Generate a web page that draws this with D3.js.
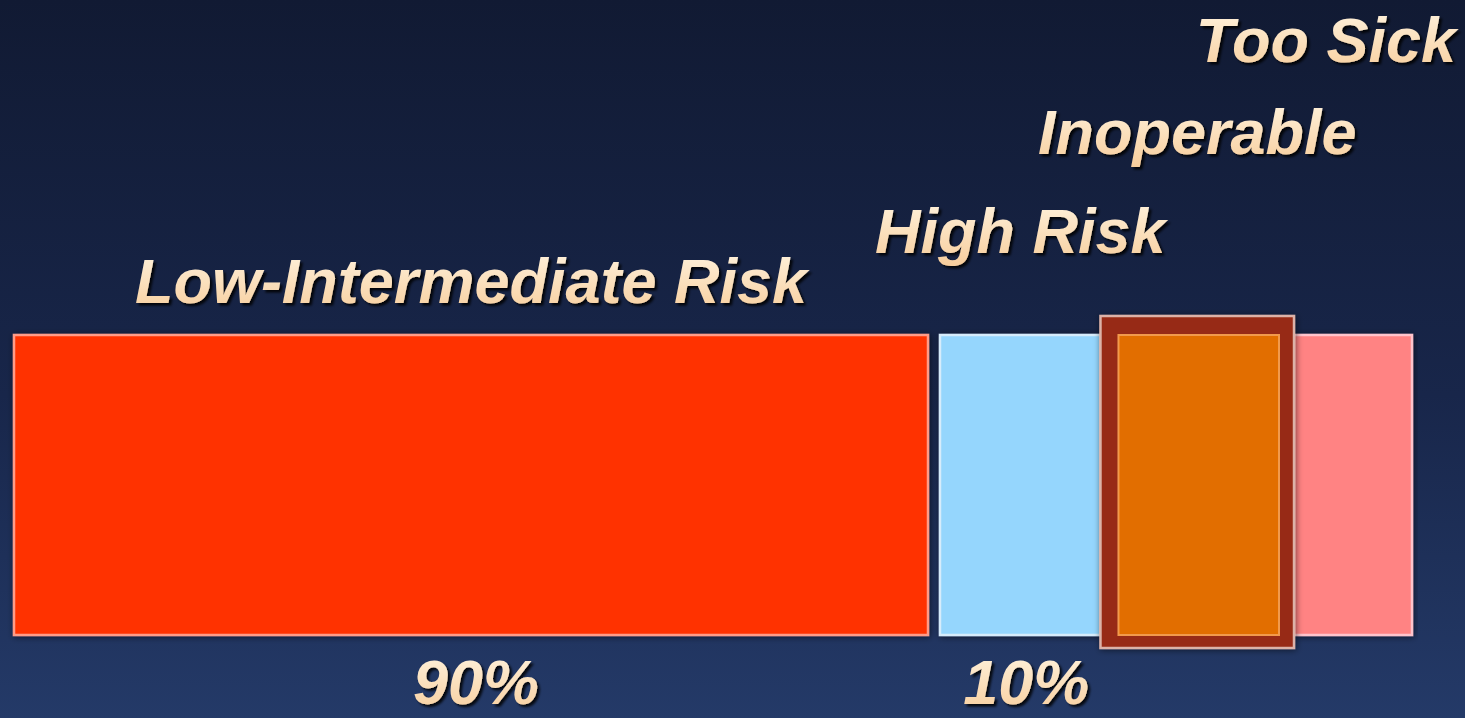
<!DOCTYPE html>
<html>
<head>
<meta charset="utf-8">
<script src="https://cdn.jsdelivr.net/npm/d3@7/dist/d3.min.js"></script>
<style>
  html, body { margin: 0; padding: 0; background: #141d38; overflow: hidden; }
  svg { display: block; }
</style>
</head>
<body>
<svg id="chart" width="1465" height="718"></svg>
<script>
// Share of patients by surgical risk group (percent)
const categories = ["Low-Intermediate Risk", "High Risk", "Inoperable", "Too Sick"];
const shares = [90, 3.4, 4.1, 2.5];
// The two headline groups: low/intermediate vs. the remaining high-risk end
const groupLabels = ["90%", "10%"];
const groupTotals = [90, 10];
// Which category is highlighted with a frame
const highlighted = "Inoperable";

const W = 1465, H = 718;
const svg = d3.select("#chart");
const defs = svg.append("defs");

// Background: dark navy, lighter towards the bottom
const bg = defs.append("linearGradient").attr("id", "bg")
  .attr("x1", 0).attr("y1", 0).attr("x2", 0).attr("y2", 1);
bg.append("stop").attr("offset", "0%").attr("stop-color", "#111a33");
bg.append("stop").attr("offset", "55%").attr("stop-color", "#18264a");
bg.append("stop").attr("offset", "100%").attr("stop-color", "#243a68");
svg.append("rect").attr("width", W).attr("height", H).attr("fill", "url(#bg)");

// Text fill: cream to peach
const tg = defs.append("linearGradient").attr("id", "txt")
  .attr("x1", 0).attr("y1", 0).attr("x2", 0).attr("y2", 1);
tg.append("stop").attr("offset", "0%").attr("stop-color", "#fff4e0");
tg.append("stop").attr("offset", "100%").attr("stop-color", "#f7cd9c");

const tshadow = defs.append("filter").attr("id", "tshadow")
  .attr("x", "-10%").attr("y", "-20%").attr("width", "120%").attr("height", "140%");
tshadow.append("feDropShadow").attr("dx", 2.5).attr("dy", 2.5)
  .attr("stdDeviation", 1.2).attr("flood-color", "#000").attr("flood-opacity", 0.85);

const bshadow = defs.append("filter").attr("id", "bshadow")
  .attr("x", "-5%").attr("y", "-5%").attr("width", "110%").attr("height", "110%");
bshadow.append("feDropShadow").attr("dx", 1).attr("dy", 1)
  .attr("stdDeviation", 3).attr("flood-color", "#000").attr("flood-opacity", 0.55);

// Horizontal scales: the 90% group at true proportion, the 10% group expanded
const xLow = d3.scaleLinear().domain([0, groupTotals[0]]).range([14, 928]);
const xHigh = d3.scaleLinear().domain([0, groupTotals[1]]).range([940, 1412]);
const y = d3.scaleBand().domain(["bar"]).range([335, 635]).padding(0);

const fill = d3.scaleOrdinal().domain(categories)
  .range(["#ff3300", "#95d6fd", "#e26e00", "#ff8383"]);
const edge = d3.scaleOrdinal().domain(categories)
  .range(["#ff9c88", "#d6ecfb", "#f29a4c", "#ffc4cc"]);

// Segment extents
let acc = 0;
const segs = categories.map((c, i) => {
  if (i === 0) return { cat: c, x0: xLow(0), x1: xLow(shares[0]) };
  const s = { cat: c, x0: xHigh(acc), x1: xHigh(acc + shares[i]) };
  acc += shares[i];
  return s;
});

const bars = svg.append("g");
const framePadTop = 19, framePadBottom = 13, frameInset = 18;

// Plain segments first (highlighted one is drawn on top with its frame)
segs.filter(d => d.cat !== highlighted).forEach(d => {
  bars.append("rect")
    .attr("x", d.x0).attr("y", y("bar"))
    .attr("width", d.x1 - d.x0).attr("height", y.bandwidth())
    .attr("fill", fill(d.cat))
    .attr("stroke", edge(d.cat)).attr("stroke-width", 2.5)
    .attr("filter", "url(#bshadow)");
});

segs.filter(d => d.cat === highlighted).forEach(d => {
  // Dark red frame
  bars.append("rect")
    .attr("x", d.x0).attr("y", y("bar") - framePadTop)
    .attr("width", d.x1 - d.x0)
    .attr("height", y.bandwidth() + framePadTop + framePadBottom)
    .attr("fill", "#972b13")
    .attr("stroke", "#dcb2a8").attr("stroke-width", 2.5)
    .attr("filter", "url(#bshadow)");
  // Segment itself inside the frame
  bars.append("rect")
    .attr("x", d.x0 + frameInset).attr("y", y("bar"))
    .attr("width", d.x1 - d.x0 - 2 * frameInset + 3).attr("height", y.bandwidth())
    .attr("fill", fill(d.cat))
    .attr("stroke", edge(d.cat)).attr("stroke-width", 2);
});

// Text labels
const font = "'Liberation Sans', Arial, sans-serif";
function label(text, x, baseline, anchor) {
  return svg.append("text")
    .attr("x", x).attr("y", baseline)
    .attr("text-anchor", anchor || "middle")
    .attr("font-family", font).attr("font-weight", "bold")
    .attr("font-style", "italic").attr("font-size", 63)
    .attr("fill", "url(#txt)")
    .attr("filter", "url(#tshadow)")
    .text(text);
}

// Category labels step upward from left to right
const labelBaselines = [303, 253, 154, 62];
segs.forEach((d, i) => {
  const t = label(d.cat, (d.x0 + d.x1) / 2, labelBaselines[i]);
  const w = t.node().getComputedTextLength();
  const cx = Math.min((d.x0 + d.x1) / 2, W - 9 - w / 2);
  t.attr("x", cx);
});

// Group totals below the bar
label(groupLabels[0], (xLow(0) + xLow(groupTotals[0])) / 2 + 5, 704);
label(groupLabels[1], (segs[1].x0 + segs[1].x1) / 2 + 6, 704);
</script>
</body>
</html>
